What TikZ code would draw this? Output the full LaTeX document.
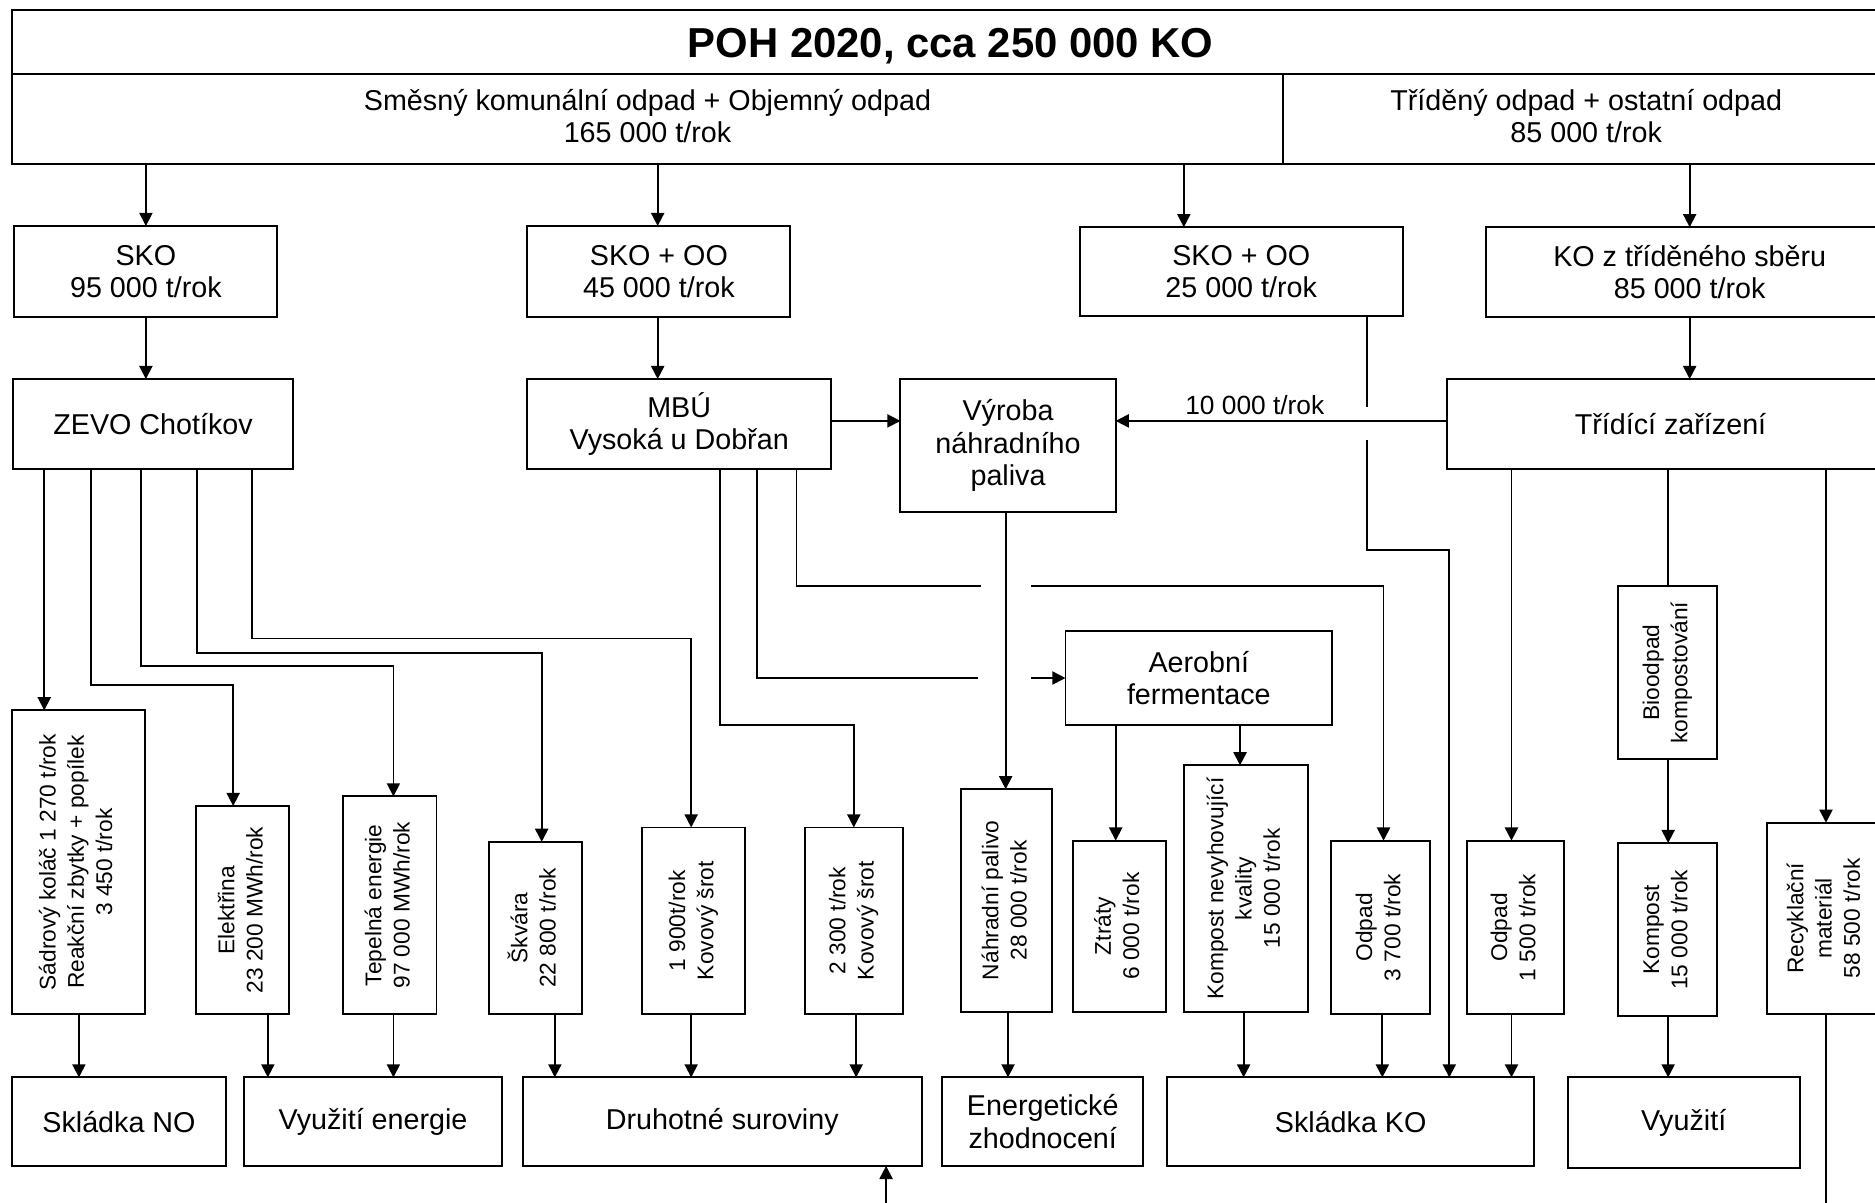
\documentclass[tikz,border=0pt]{standalone}
\usepackage{fontspec}
\setmainfont{Liberation Sans}
\usepackage{graphicx}
\usetikzlibrary{arrows.meta}
\tikzset{
  box/.style={draw, line width=0.8pt, inner sep=0pt, outer sep=0pt, align=center, font=\fontsize{12}{13.5}\selectfont},
  arr/.style={-{Triangle[length=5.5pt,width=5.5pt]}, line width=0.75pt},
  ln/.style={line width=0.75pt},
  lbl/.style={font=\fontsize{11}{13}\selectfont, inner sep=2pt},
}
\newcommand\rot[1]{\rotatebox{90}{\fontsize{9.5}{11.8}\selectfont\begin{tabular}{@{}c@{}}#1\end{tabular}}}
\newcommand\mkbox[7][]{\node[box,minimum width={(#5-#3)*0.5pt},minimum height={(#6-#4)*0.5pt},#1] (#2) at ({(#3+#5)/2},{(#4+#6)/2}) {#7};}
\begin{document}
\begin{tikzpicture}[x=0.5pt,y=-0.5pt]
\useasboundingbox (0,0) rectangle (1568,1006);
\clip (0,0) rectangle (1568,1006);
% top rows
\mkbox{title}{10}{8}{1580}{62}{\fontsize{17.5}{20}\selectfont\bfseries\rule{0pt}{15.6pt}POH 2020, cca 250 000 KO}
\mkbox{subL}{10}{62}{1073}{137}{Směsný komunální odpad + Objemný odpad\\165 000 t/rok\rule[-2.5pt]{0pt}{2.5pt}}
\mkbox{subR}{1073}{62}{1580}{137}{Tříděný odpad + ostatní odpad\\85 000 t/rok\rule[-2.5pt]{0pt}{2.5pt}}
% second row
\mkbox{sko}{12}{189}{232}{265}{SKO\\95 000 t/rok}
\mkbox{skoo1}{441}{189}{661}{265}{SKO + OO\\45 000 t/rok}
\mkbox{skoo2}{903}{190}{1173}{264}{SKO + OO\\25 000 t/rok}
\mkbox{kots}{1243}{190}{1583}{265}{KO z tříděného sběru\\85 000 t/rok}
% third row
\mkbox{zevo}{11}{317}{245}{392}{ZEVO Chotíkov}
\mkbox{mbu}{441}{317}{695}{392}{MBÚ\\Vysoká u Dobřan}
\mkbox{vyroba}{753}{317}{933}{428}{Výroba\\náhradního\\paliva}
\mkbox{tridici}{1210}{317}{1584}{392}{Třídící zařízení}
% middle
\mkbox{aerob}{891}{528}{1114}{606}{Aerobní\\fermentace}
\mkbox{biood}{1353}{490}{1436}{635}{\rot{Bioodpad\\kompostování}}
% product boxes
\mkbox{sadr}{10}{594}{121}{848}{\rot{Sádrový koláč 1 270 t/rok\\Reakční zbytky + popílek\\3 450 t/rok}}
\mkbox{elek}{164}{674}{242}{848}{\rot{Elektřina\\23 200 MWh/rok}}
\mkbox{tepl}{287}{666}{365}{848}{\rot{Tepelná energie\\97 000 MWh/rok}}
\mkbox{skvara}{409}{704}{487}{848}{\rot{Škvára\\22 800 t/rok}}
\mkbox{kov1}{537}{692}{623}{848}{\rot{1 900t/rok\\Kovový šrot}}
\mkbox{kov2}{673}{692}{755}{848}{\rot{2 300 t/rok\\Kovový šrot}}
\mkbox{nahr}{804}{660}{880}{846}{\rot{Náhradní palivo\\28 000 t/rok}}
\mkbox{ztraty}{897}{703}{975}{846}{\rot{Ztráty\\6 000 t/rok}}
\mkbox{kompnv}{990}{640}{1094}{846}{\rot{Kompost nevyhovující\\kvality\\15 000 t/rok}}
\mkbox{odpad1}{1113}{703}{1196}{848}{\rot{Odpad\\3 700 t/rok}}
\mkbox{odpad2}{1227}{703}{1308}{848}{\rot{Odpad\\1 500 t/rok}}
\mkbox{kompost}{1353}{705}{1436}{850}{\rot{Kompost\\15 000 t/rok}}
\mkbox{recykl}{1478}{688}{1576}{848}{\rot{Recyklační\\materiál\\58 500 t/rok}}
% bottom row
\mkbox{sklNO}{10}{901}{189}{975}{Skládka NO}
\mkbox{vyuzE}{204}{901}{420}{975}{Využití energie}
\mkbox{druh}{437}{901}{771}{975}{Druhotné suroviny}
\mkbox{energ}{788}{901}{956}{975}{Energetické\\zhodnocení}
\mkbox{sklKO}{976}{901}{1283}{975}{Skládka KO}
\mkbox{vyuz}{1311}{901}{1505}{977}{Využití}
% free ends
\coordinate (c1) at (1143,340);
\coordinate (c2) at (1143,368);
\coordinate (g1) at (818,567);
\coordinate (g2) at (862,567);
\coordinate (g3) at (820,490);
\coordinate (g4) at (862,490);
\coordinate (e1) at (1527,1012);
\coordinate (e2) at (741,1012);
% connectors top
\draw[arr] (subL.south -| 122,0) -- (sko.north -| 122,0);
\draw[arr] (subL.south -| 550,0) -- (skoo1.north -| 550,0);
\draw[arr] (subL.south -| 990,0) -- (skoo2.north -| 990,0);
\draw[arr] (subR.south -| 1413,0) -- (kots.north -| 1413,0);
\draw[arr] (sko.south -| 122,0) -- (zevo.north -| 122,0);
\draw[arr] (skoo1.south -| 550,0) -- (mbu.north -| 550,0);
\draw[arr] (kots.south -| 1413,0) -- (tridici.north -| 1413,0);
\draw[arr] (mbu.east |- 0,352) -- (vyroba.west |- 0,352);
\draw[arr] (tridici.west |- 0,352) -- node[above, pos=0.58, lbl] {10 000 t/rok} (vyroba.east |- 0,352);
\draw[ln] (skoo2.south -| 1143,0) -- (c1);
\draw[arr] (c2) |- (1212,460) -- (sklKO.north -| 1212,0);
% ZEVO outputs
\draw[arr] (zevo.south -| 37,0) -- (sadr.north -| 37,0);
\draw[arr] (zevo.south -| 76,0) |- (195,573) -- (elek.north -| 195,0);
\draw[arr] (zevo.south -| 118,0) |- (329,557) -- (tepl.north -| 329,0);
\draw[arr] (zevo.south -| 165,0) |- (453,546) -- (skvara.north -| 453,0);
\draw[arr] (zevo.south -| 211,0) |- (578,534) -- (kov1.north -| 578,0);
% MBU outputs
\draw[arr] (mbu.south -| 602,0) |- (714,606) -- (kov2.north -| 714,0);
\draw[ln] (mbu.south -| 633,0) |- (g1);
\draw[arr] (g2) -- (aerob.west |- g2);
\draw[ln] (mbu.south -| 666,0) |- (g3);
\draw[arr] (g4) -| (odpad1.north -| 1157,0);
% others
\draw[arr] (vyroba.south -| 841,0) -- (nahr.north -| 841,0);
\draw[arr] (aerob.south -| 933,0) -- (ztraty.north -| 933,0);
\draw[arr] (aerob.south -| 1037,0) -- (kompnv.north -| 1037,0);
\draw[arr] (tridici.south -| 1264,0) -- (odpad2.north -| 1264,0);
\draw[ln] (tridici.south -| 1395,0) -- (biood.north -| 1395,0);
\draw[arr] (biood.south -| 1395,0) -- (kompost.north -| 1395,0);
\draw[arr] (tridici.south -| 1527,0) -- (recykl.north -| 1527,0);
\draw[ln] (recykl.south -| 1527,0) -- (e1);
% bottom arrows
\draw[arr] (sadr.south -| 66,0) -- (sklNO.north -| 66,0);
\draw[arr] (elek.south -| 224,0) -- (vyuzE.north -| 224,0);
\draw[arr] (tepl.south -| 329,0) -- (vyuzE.north -| 329,0);
\draw[arr] (skvara.south -| 464,0) -- (druh.north -| 464,0);
\draw[arr] (kov1.south -| 578,0) -- (druh.north -| 578,0);
\draw[arr] (kov2.south -| 716,0) -- (druh.north -| 716,0);
\draw[arr] (nahr.south -| 843,0) -- (energ.north -| 843,0);
\draw[arr] (kompnv.south -| 1040,0) -- (sklKO.north -| 1040,0);
\draw[arr] (odpad1.south -| 1156,0) -- (sklKO.north -| 1156,0);
\draw[arr] (odpad2.south -| 1264,0) -- (sklKO.north -| 1264,0);
\draw[arr] (kompost.south -| 1395,0) -- (vyuz.north -| 1395,0);
\draw[arr] (e2) -- (druh.south -| 741,0);
\end{tikzpicture}
\end{document}
